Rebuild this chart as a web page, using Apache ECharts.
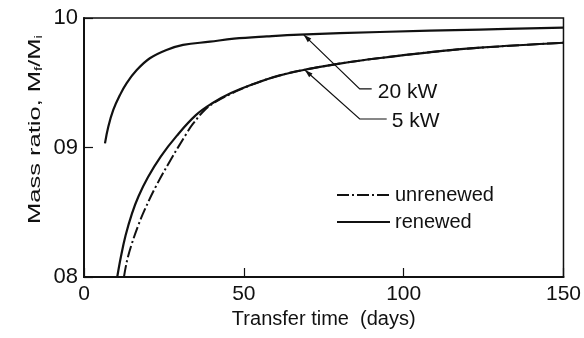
<!DOCTYPE html>
<html><head><meta charset="utf-8">
<script src="https://cdn.jsdelivr.net/npm/echarts@6/dist/echarts.min.js"></script>
<style>html,body{margin:0;padding:0;background:#fff}#c{width:584px;height:338px}</style>
</head><body><div id="c"></div>
<script>
// ---- data ----
const days20kW  = [6.56, 7.6, 9.16, 11.25, 13.3, 16.5, 20.6, 25.8, 31.0, 39.4, 46.9, 57.2, 67.5, 92.5, 123.75, 150];
const ratio20kW = [0.9032, 0.9161, 0.9290, 0.9405, 0.9496, 0.9598, 0.9689, 0.9753, 0.9792, 0.9817, 0.9840, 0.9858, 0.9872, 0.9892, 0.9911, 0.9925];

const days5kWRenewed  = [10.4, 11.5, 13, 15, 17, 20, 24, 29, 35, 40, 46, 53, 61, 70, 80, 92, 108, 124, 150];
const ratio5kWRenewed = [0.800, 0.815, 0.832, 0.849, 0.862, 0.877, 0.893, 0.909, 0.925, 0.934, 0.942, 0.949, 0.9555, 0.9605, 0.9648, 0.9689, 0.9735, 0.9771, 0.9809];

const days5kWUnrenewed  = [12.5, 13.5, 15, 17, 19, 22.5, 27, 32, 34, 38, 41, 46, 53, 61, 70, 80, 92, 108, 124, 150];
const ratio5kWUnrenewed = [0.800, 0.813, 0.826, 0.840, 0.852, 0.870, 0.890, 0.9105, 0.918, 0.9295, 0.935, 0.9415, 0.949, 0.9555, 0.9605, 0.9648, 0.9689, 0.9735, 0.9771, 0.9809];

const xTicks = [0, 50, 100, 150];
const yTickLabels = {'0.8': '08', '0.9': '09', '1': '10'};

const seriesNames = ['unrenewed', 'renewed'];
const annotations = [
  {text: '20 kW', tip: [68.75, 0.9870], elbow: [86.25, 0.9452], end: [90.0, 0.9452], label: [91.9, 0.9430]},
  {text: '5 kW',  tip: [69.1, 0.9598],  elbow: [86.25, 0.9220], end: [94.7, 0.9220], label: [96.3, 0.9205]}
];

// ---- chart ----
const zip = (a, b) => a.map((v, i) => [v, b[i]]);
const FONT = 'Liberation Sans';
const INK = '#111';
const chart = echarts.init(document.getElementById('c'), null, {renderer: 'canvas'});

const option = {
  animation: false,
  backgroundColor: '#fff',
  textStyle: {fontFamily: FONT, color: INK},
  grid: {left: 84, right: 20, top: 18, bottom: 61, show: true, borderColor: INK, borderWidth: 1.5},
  legend: {
    data: seriesNames,
    orient: 'vertical',
    left: 336, top: 185,
    padding: 0,
    itemWidth: 53, itemHeight: 14, itemGap: 7,
    itemStyle: {opacity: 0},
    textStyle: {fontFamily: FONT, fontSize: 20, color: INK, lineHeight: 20}
  },
  xAxis: {
    type: 'value', min: 0, max: 150, interval: 50,
    name: 'Transfer time  (days)', nameLocation: 'middle', nameGap: 31,
    nameTextStyle: {fontFamily: FONT, fontSize: 20, color: INK},
    axisLine: {lineStyle: {color: INK, width: 2}},
    axisTick: {inside: true, length: 9, lineStyle: {color: INK, width: 1.2}},
    axisLabel: {margin: 7, fontFamily: FONT, fontSize: 21, color: INK,
      formatter: v => xTicks.includes(v) ? String(v) : ''},
    splitLine: {show: false}
  },
  yAxis: {
    type: 'value', min: 0.8, max: 1.0, interval: 0.1,
    axisLine: {show: true, lineStyle: {color: INK, width: 2}},
    axisTick: {show: true, inside: true, length: 9, lineStyle: {color: INK, width: 1.2}},
    axisLabel: {margin: 6, fontFamily: FONT, fontSize: 22, color: INK,
      formatter: v => yTickLabels[String(Math.round(v * 10) / 10)] || ''},
    splitLine: {show: false}
  },
  series: [
    {name: 'renewed', type: 'line', data: zip(days20kW, ratio20kW), smooth: 0.4,
     symbol: 'none', lineStyle: {color: INK, width: 2.2}, itemStyle: {color: INK}},
    {name: 'renewed', type: 'line', data: zip(days5kWRenewed, ratio5kWRenewed), smooth: 0.4,
     symbol: 'none', lineStyle: {color: INK, width: 2.2}, itemStyle: {color: INK}},
    {name: 'unrenewed', type: 'line', data: zip(days5kWUnrenewed, ratio5kWUnrenewed), smooth: 0.4,
     symbol: 'none', lineStyle: {color: INK, width: 2, type: [12, 3, 2, 3]}, itemStyle: {color: INK}}
  ]
};
chart.setOption(option);

// annotations and y-axis title placed through the chart's own coordinate system
const px = p => chart.convertToPixel({gridIndex: 0}, p);
const graphics = [];
annotations.forEach(a => {
  const t = px(a.tip), e = px(a.elbow), n = px(a.end), l = px(a.label);
  graphics.push({type: 'polyline', shape: {points: [t, e, n]}, style: {stroke: INK, lineWidth: 1.2, fill: null}, silent: true});
  const dx = e[0] - t[0], dy = e[1] - t[1], len = Math.hypot(dx, dy);
  const ux = dx / len, uy = dy / len, L = 8, W = 2.5;
  const bx = t[0] + ux * L, by = t[1] + uy * L;
  graphics.push({type: 'polygon', shape: {points: [t, [bx - uy * W, by + ux * W], [bx + uy * W, by - ux * W]]},
    style: {fill: INK}, silent: true});
  graphics.push({type: 'text', x: l[0], y: l[1],
    style: {text: a.text, font: '21px "' + FONT + '"', fill: INK, textAlign: 'left', textVerticalAlign: 'middle'}, silent: true});
});
graphics.push({type: 'text', x: 35, y: 129.5, rotation: Math.PI / 2, scaleX: 1.5,
  style: {text: 'Mass ratio, M{s|f}/M{s|i}', fill: INK, font: '17px "' + FONT + '"',
    textAlign: 'center', textVerticalAlign: 'middle',
    rich: {s: {fontSize: 10, fontFamily: FONT, fill: INK, verticalAlign: 'bottom', padding: [8, 0, 0, 0]}}}, silent: true});
chart.setOption({graphic: graphics});
</script></body></html>
